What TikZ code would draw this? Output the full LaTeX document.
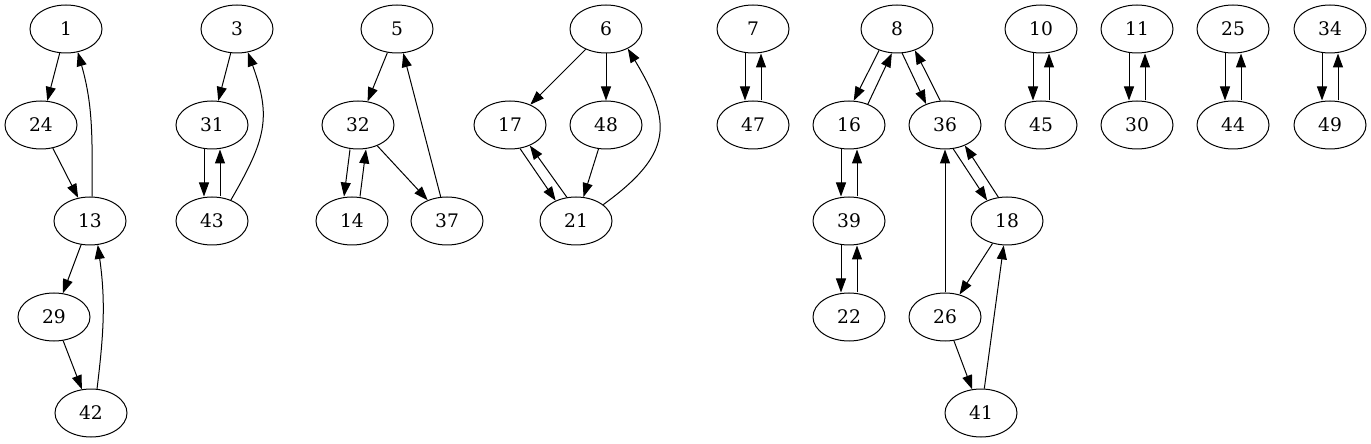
\documentclass[tikz,border=0pt]{standalone}
\usepackage{fontspec}
\setmainfont{DejaVu Serif}
\usetikzlibrary{shapes.geometric,arrows.meta}
\tikzset{
    vertex/.style={draw, ellipse, minimum width=54pt, minimum height=36pt, inner sep=0pt, font=\fontsize{14}{16}\selectfont},
    link/.style={-{Triangle[length=10.5pt,width=7.5pt]}},
}
\begin{document}
\begin{tikzpicture}[x=0.75pt, y=0.75pt, line width=0.75pt]
    \useasboundingbox (0,0) rectangle (1371,443);
    % nodes as name/x/rank
    \foreach \n/\x/\r in {1/66/0, 24/41/1, 13/90/2, 29/54/3, 42/91/4,
                          3/237/0, 31/212/1, 43/212/2,
                          5/397/0, 32/358/1, 14/352/2, 37/447/2,
                          6/606/0, 17/510/1, 48/606/1, 21/576/2,
                          7/753/0, 47/753/1,
                          8/897/0, 16/849/1, 36/945/1, 39/849/2, 18/1007/2, 22/849/3, 26/945/3, 41/981/4,
                          10/1041/0, 45/1041/1, 11/1137/0, 30/1137/1,
                          25/1233/0, 44/1233/1, 34/1330/0, 49/1330/1} {
        \node[vertex] (n\n) at (\x,{414-96*\r}) {\n};
    }
    % straight edges
    \foreach \a/\b in {1/24, 24/13, 13/29, 29/42, 3/31, 5/32, 32/37, 37/5,
                       6/17, 6/48, 48/21, 18/26, 26/36, 26/41, 41/18} {
        \draw[link] (n\a) -- (n\b);
    }
    % edges both ways
    \foreach \a/\b in {31/43, 32/14, 7/47, 16/39, 39/22, 10/45, 11/30, 25/44, 34/49} {
        \draw[link] ([xshift=-6pt]n\a.south) -- ([xshift=-6pt]n\b.north);
        \draw[link] ([xshift=6pt]n\b.north) -- ([xshift=6pt]n\a.south);
    }
    \draw[link] (n17.-67) -- (n21.135);
    \draw[link] (n21.111) -- (n17.-46);
    \draw[link] (n8.-130) -- (n16.79);
    \draw[link] (n16.48) -- (n8.-102);
    \draw[link] (n8.-78) -- (n36.132);
    \draw[link] (n36.101) -- (n8.-50);
    \draw[link] (n36.-71) -- (n18.134);
    \draw[link] (n18.110) -- (n36.-46);
    % back edges
    \draw[link] (n13.85) to[out=90, in=-74] (n1.-63);
    \draw[link] (n42.76) to[out=83, in=-82] (n13.-72);
    \draw[link] (n43.48) to[out=60, in=-70, looseness=1.2] (n3.-65);
    \draw[link] (n21.31) to[out=36, in=-59, looseness=1.4] (n6.-42);
\end{tikzpicture}
\end{document}
